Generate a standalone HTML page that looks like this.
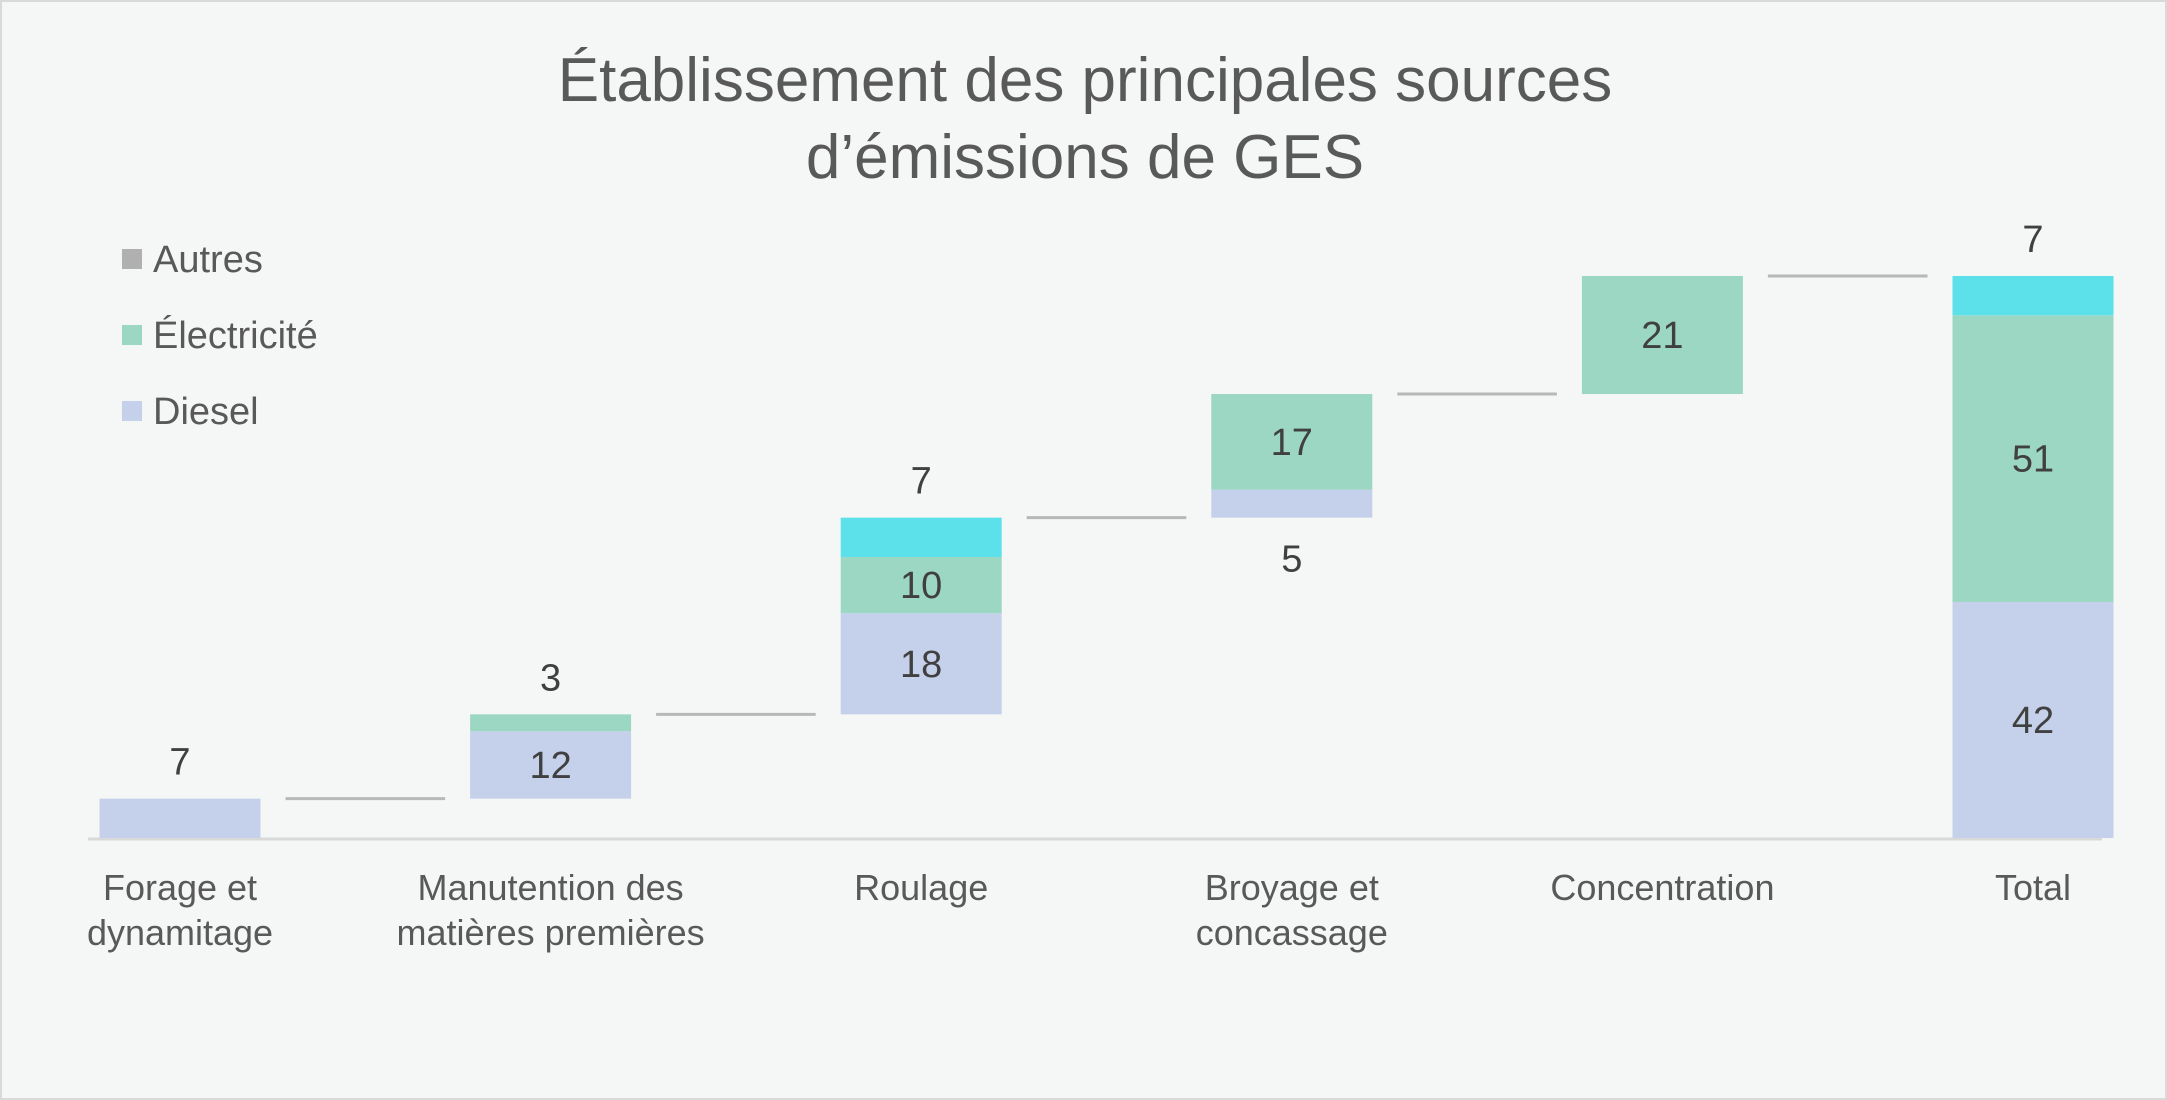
<!DOCTYPE html>
<html><head><meta charset="utf-8">
<style>
html,body{margin:0;padding:0;background:#f5f7f6;}
#wrap{position:relative;width:2167px;height:1100px;box-sizing:border-box;border:2px solid #d9d9d9;background:#f5f7f6;overflow:hidden;}
svg text{font-family:"Liberation Sans",sans-serif;}
</style></head>
<body>
<div id="wrap">
<svg id="chart" width="2167" height="1100">
  <text x="1083" y="99" text-anchor="middle" font-size="62" fill="#595959">Établissement des principales sources</text>
  <text x="1083" y="176" text-anchor="middle" font-size="62" fill="#595959">d’émissions de GES</text>
  <g>
    <rect x="120" y="247" width="20" height="20" fill="#b0b0b0"/>
    <text x="151" y="270" font-size="38" fill="#595959">Autres</text>
    <rect x="120" y="323" width="20" height="20" fill="#9cd7c3"/>
    <text x="151" y="346" font-size="38" fill="#595959">Électricité</text>
    <rect x="120" y="399" width="20" height="20" fill="#c5d0ea"/>
    <text x="151" y="422" font-size="38" fill="#595959">Diesel</text>
  </g>
  <line x1="86" y1="837" x2="2100" y2="837" stroke="#d9d9d9" stroke-width="3"/>
  <g id="marks"></g>
</svg>
</div>
<script>
const categories = [["Forage et","dynamitage"],["Manutention des","matières premières"],["Roulage"],["Broyage et","concassage"],["Concentration"],["Total"]];
const diesel = [7, 12, 18, 5, 0, 42];
const electricite = [0, 3, 10, 17, 21, 51];
const autres = [0, 0, 7, 0, 0, 7];
const isTotal = [false, false, false, false, false, true];

const NS = "http://www.w3.org/2000/svg";
const g = document.getElementById("marks");
const baseY = 836, pxPerUnit = 5.62;
const x0 = 178, step = 370.6, barW = 161;
function yScale(v){ return baseY - v * pxPerUnit; }
function xCenter(i){ return x0 + i * step; }

const series = [
  {vals: diesel, color: "#c5d0ea", name: "diesel"},
  {vals: electricite, color: "#9cd7c3", name: "electricite"},
  {vals: autres, color: "#5ce1eb", name: "autres"}
];

let running = 0;
const tops = [];
categories.forEach((cat, i) => {
  let base = isTotal[i] ? 0 : running;
  const cx = xCenter(i);
  let acc = base;
  const segs = series.filter(s => s.vals[i] > 0);
  segs.forEach((s, k) => {
    const v = s.vals[i];
    const yTop = yScale(acc + v), yBot = yScale(acc);
    const r = document.createElementNS(NS, "rect");
    r.setAttribute("x", cx - barW/2);
    r.setAttribute("y", yTop);
    r.setAttribute("width", barW);
    r.setAttribute("height", yBot - yTop);
    r.setAttribute("fill", s.color);
    
    
    g.appendChild(r);
    const t = document.createElementNS(NS, "text");
    let ty;
    if (v >= 9) ty = (yTop + yBot) / 2 + 13;
    else if (k === segs.length - 1) ty = yTop - 24;
    else ty = yBot + 54;
    t.setAttribute("x", cx);
    t.setAttribute("y", ty);
    t.setAttribute("text-anchor", "middle");
    t.setAttribute("font-size", "38");
    t.setAttribute("fill", "#404040");
    t.textContent = v;
    
    
    g.appendChild(t);
    acc += v;
  });
  tops.push(acc);
  if (!isTotal[i]) running = acc;
  cat.forEach((line, li) => {
    const t = document.createElementNS(NS, "text");
    t.setAttribute("x", cx);
    t.setAttribute("y", 898 + li * 45);
    t.setAttribute("text-anchor", "middle");
    t.setAttribute("font-size", "36");
    t.setAttribute("fill", "#595959");
    t.textContent = line;
    
    
    g.appendChild(t);
  });
});
for (let i = 0; i < categories.length - 1; i++) {
  const y = yScale(tops[i]);
  const l = document.createElementNS(NS, "line");
  l.setAttribute("x1", xCenter(i) + barW/2 + 25);
  l.setAttribute("x2", xCenter(i + 1) - barW/2 - 25);
  l.setAttribute("y1", y);
  l.setAttribute("y2", y);
  l.setAttribute("stroke", "#b8b8b8");
  l.setAttribute("stroke-width", "3");
  
  
  g.appendChild(l);
}
</script>
</body></html>
